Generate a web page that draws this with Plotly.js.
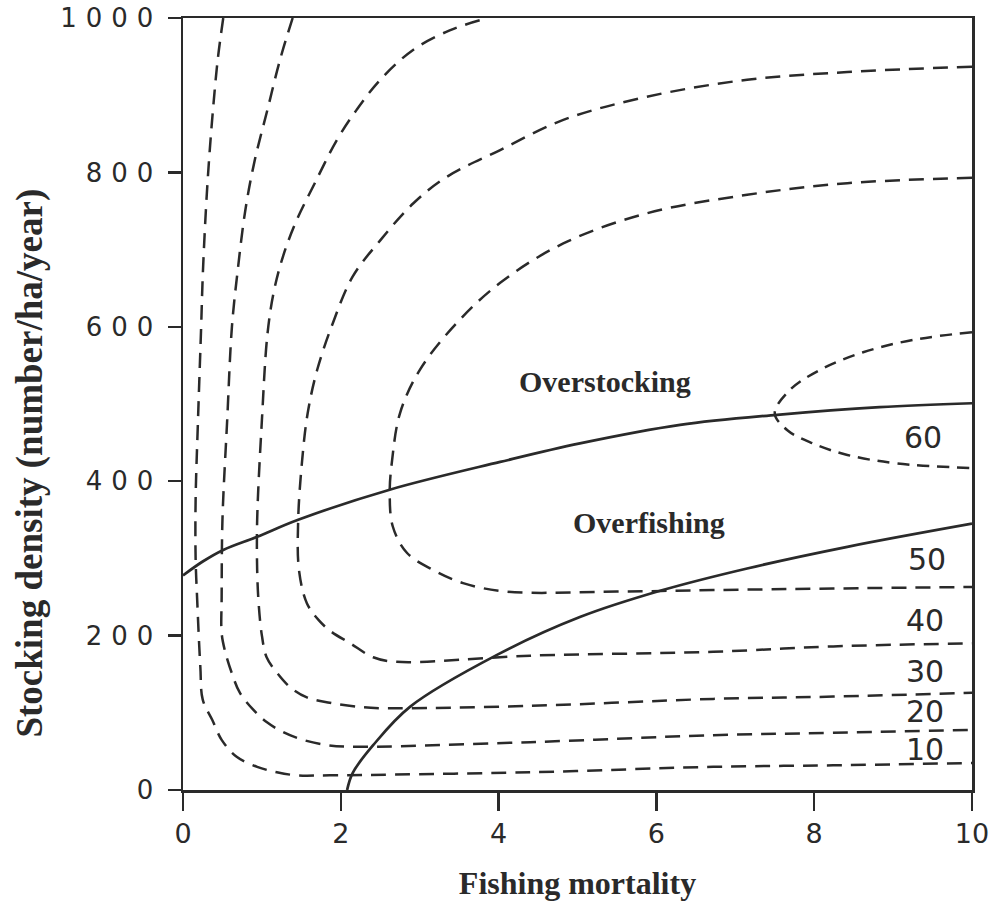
<!DOCTYPE html>
<html><head><meta charset="utf-8">
<script src="https://cdn.plot.ly/plotly-3.0.1.min.js"></script>
<style>
body{margin:0;background:#fff}
#chart .ytick text{letter-spacing:9px}
</style>
</head><body>
<div id="chart" style="width:993px;height:906px"></div>
<script>
// Yield isopleths (dashed)
const yield10X = [0.51,0.44,0.38,0.33,0.29,0.25,0.23,0.19,0.16,0.16,0.18,0.22,0.25,0.37,0.49,0.68,0.94,1.19,1.44,1.86,4.4,6.72,8.24,10];
const yield10Y = [1000,946,881,816,751,665,600,479,376,300,246,159,117,91,65,43,30,23,19,19,23,30,32,35];

const yield20X = [1.39,1.23,1.07,0.91,0.79,0.69,0.62,0.56,0.50,0.49,0.49,0.53,0.62,0.72,0.89,1.06,1.27,1.52,1.83,2.12,4.4,6.72,8.24,10];
const yield20Y = [1000,946,881,816,751,670,600,479,350,250,203,181,151,126,104,88,75,65,58,56,62,71,74,78];

const yield30X = [3.76,3.38,2.92,2.5,2.2,1.95,1.67,1.44,1.27,1.15,1.07,1.0,0.94,0.94,0.96,1.0,1.06,1.19,1.36,1.57,1.86,2.2,2.5,4.4,6.72,8.24,10];
const yield30Y = [997,984,959,920,881,842,786,738,692,645,590,479,350,285,240,200,172,152,133,120,113,108,106,109,118,121,126];

const yield40X = [10,8.42,7.15,5.88,4.82,4.02,3.34,2.92,2.5,2.15,1.90,1.70,1.58,1.51,1.46,1.47,1.57,1.72,1.88,2.12,2.41,2.71,4.4,6.72,8.24,10];
const yield40Y = [937,930,920,898,868,829,794,760,712,665,605,544,488,427,350,285,242,220,205,190,172,166,174,179,186,190];

const yield50X = [10,8.42,7.15,5.88,4.82,4.02,3.47,3.0,2.75,2.65,2.62,2.66,2.84,3.17,3.55,4.1,5.5,6.72,8.24,10];
const yield50Y = [793,786,771,747,708,657,605,544,488,427,385,341,307,285,268,257,257,259,261,263];

const yield60X = [10,9.25,8.62,8.07,7.69,7.50,7.66,7.98,8.42,9.05,10];
const yield60Y = [593,583,567,544,518,488,466,449,434,423,417];

// Boundaries (solid)
const overstockX = [0,0.25,0.51,0.94,1.46,2.62,4.02,5.03,6.30,7.53,8.83,10];
const overstockY = [278,296,311,328,350,389,425,449,473,486,496,501];

const overfishX = [2.08,2.15,2.41,2.88,3.98,5.03,6.08,7.15,8.42,10];
const overfishY = [0,22,58,108,175,224,259,287,315,345];

// Contour labels
const labelText = ['60','50','40','30','20','10'];
const labelX = [9.38,9.43,9.40,9.40,9.40,9.40];
const labelY = [457,298,220,153,102,52];

// Region labels
const regionText = ['Overstocking','Overfishing'];
const regionX = [5.35,5.91];
const regionY = [529,347];

const xTicks = [0,2,4,6,8,10];
const yTicks = [0,200,400,600,800,1000];

const ink = '#2a2a2a';
function dashed(x, y, dash) {
  return {x: x, y: y, type: 'scatter', mode: 'lines', hoverinfo: 'skip',
    line: {color: ink, width: 2.5, dash: dash || '15px,9px', shape: 'spline', smoothing: 1.0}};
}
function solid(x, y) {
  return {x: x, y: y, type: 'scatter', mode: 'lines', hoverinfo: 'skip',
    line: {color: ink, width: 2.7, shape: 'spline', smoothing: 1.0}};
}

const traces = [
  dashed(yield10X, yield10Y), dashed(yield20X, yield20Y), dashed(yield30X, yield30Y),
  dashed(yield40X, yield40Y), dashed(yield50X, yield50Y), dashed(yield60X, yield60Y, '12px,8px'),
  solid(overstockX, overstockY), solid(overfishX, overfishY)
];

const annotations = [];
labelText.forEach((t, i) => annotations.push({
  x: labelX[i], y: labelY[i], xref: 'x', yref: 'y', text: t, showarrow: false,
  xanchor: 'center', yanchor: 'middle',
  font: {family: 'DejaVu Sans', size: 30, color: ink}
}));
regionText.forEach((t, i) => annotations.push({
  x: regionX[i], y: regionY[i], xref: 'x', yref: 'y', text: t, showarrow: false,
  xanchor: 'center', yanchor: 'middle',
  font: {family: 'Liberation Serif', size: 30, color: ink, weight: 'bold'}
}));
annotations.push({
  x: -0.194, y: 424, xref: 'paper', yref: 'y', text: 'Stocking density (number/ha/year)',
  showarrow: false, textangle: -90, xanchor: 'center', yanchor: 'middle',
  font: {family: 'Liberation Serif', size: 37, color: ink, weight: 'bold'}
});

const layout = {
  width: 993, height: 906,
  margin: {l: 183, r: 21, t: 18, b: 116},
  paper_bgcolor: '#ffffff', plot_bgcolor: '#ffffff',
  showlegend: false,
  xaxis: {
    range: [0, 10], tickvals: xTicks, ticktext: xTicks.map(String),
    showgrid: false, zeroline: false, showline: true, mirror: true,
    linecolor: ink, linewidth: 2.5, ticks: 'outside', ticklen: 18, tickwidth: 2.5, tickcolor: ink,
    tickfont: {family: 'DejaVu Sans', size: 27, color: ink},
    title: {text: 'Fishing mortality', standoff: 24,
      font: {family: 'Liberation Serif', size: 32, color: ink, weight: 'bold'}}
  },
  yaxis: {
    range: [0, 1000], tickvals: yTicks, ticktext: yTicks.map(String),
    showgrid: false, zeroline: false, showline: true, mirror: true,
    linecolor: ink, linewidth: 2.5, ticks: 'outside', ticklen: 13, tickwidth: 2.5, tickcolor: ink,
    tickfont: {family: 'DejaVu Sans', size: 26, color: ink}
  },
  annotations: annotations
};

Plotly.newPlot('chart', traces, layout, {staticPlot: true, displayModeBar: false});
</script>
</body></html>
